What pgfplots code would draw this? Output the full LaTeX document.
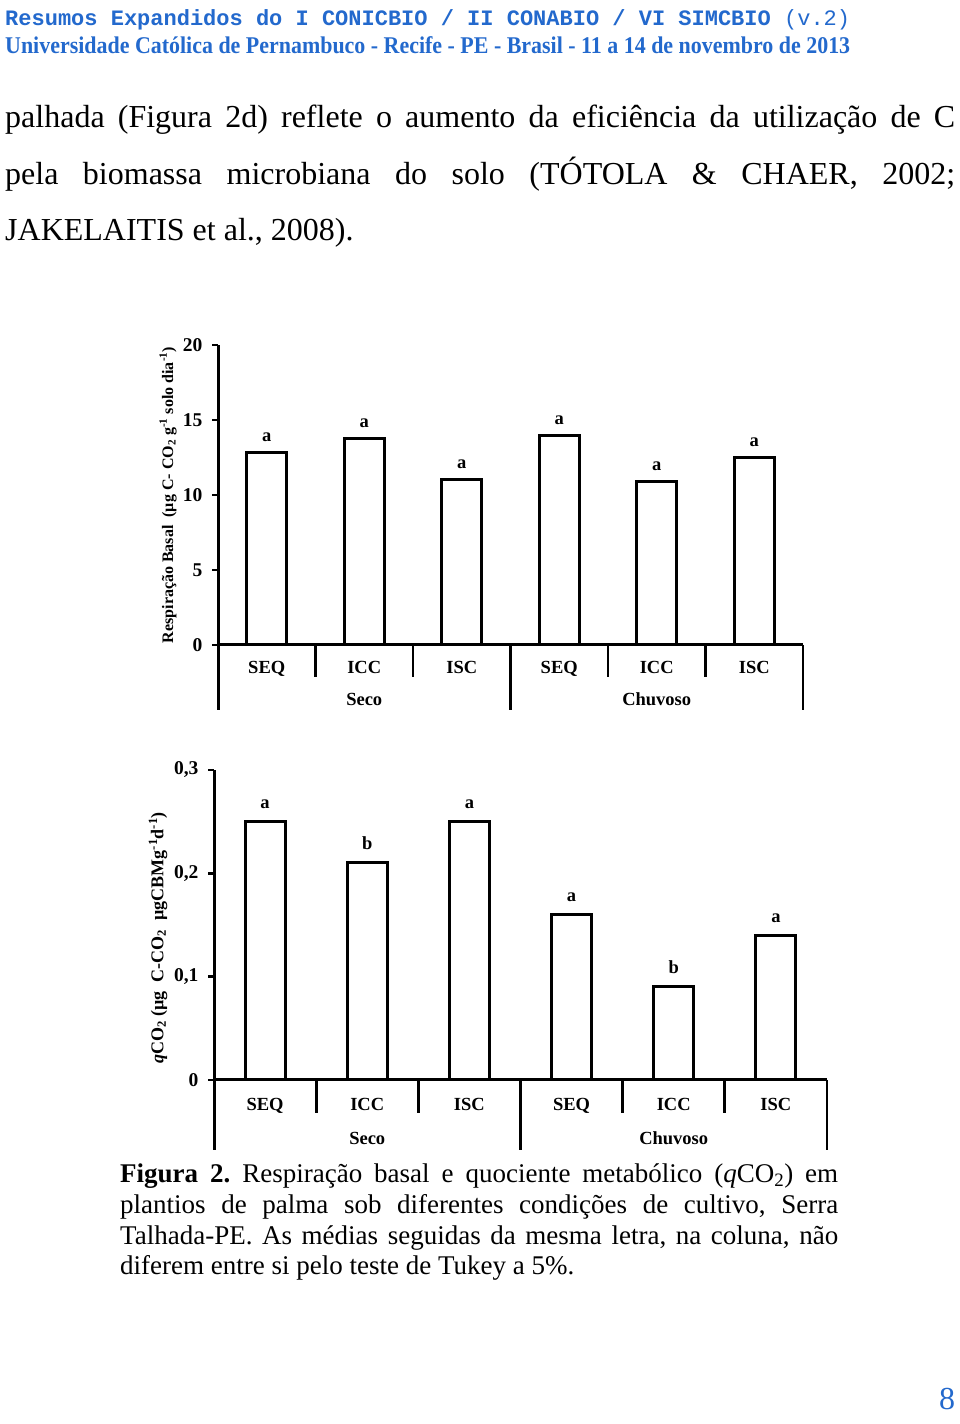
\documentclass[border=0pt]{standalone}
\usepackage{fontspec}
\setmainfont{Liberation Serif}
\newfontfamily\monof{Liberation Mono}
\usepackage{graphicx}
\usepackage{pgfplots}
\pgfplotsset{compat=1.18}
\usepackage{pgfplotstable}
\definecolor{hdrblue}{RGB}{35,105,205}
\newcommand\chf{\bfseries\fontsize{18.5}{20}\selectfont}
\frenchspacing

\pgfplotstableread{
x y l
0 12.85 a
1 13.78 a
2 11.05 a
3 13.95 a
4 10.87 a
5 12.52 a
}\resp
\pgfplotstableread{
x y l
0 0.25 a
1 0.21 b
2 0.25 a
3 0.16 a
4 0.09 b
5 0.14 a
}\qco

\pgfplotsset{barchart/.style={
  scale only axis, clip=false, anchor=south west,
  axis x line*=bottom, axis y line*=left,
  axis line style={-, line width=3pt, black},
  xmin=-0.5, xmax=5.5,
  xtick={0,...,5}, xticklabels={SEQ,ICC,ISC,SEQ,ICC,ISC},
  x tick style={draw=none},
  xticklabel style={font=\chf, anchor=base},
  tick align=outside, major tick length=6pt,
  y tick style={line width=2.6pt, black},
  yticklabel style={font=\bfseries\fontsize{19.5}{21}\selectfont, anchor=east, xshift=-6pt},
  /pgf/number format/assume math mode=true,
  /pgf/number format/use comma,
  ybar, bar width=40pt,
  nodes near coords, point meta=explicit symbolic,
  every node near coord/.append style={font=\chf, anchor=base},
}}

\begin{document}
\begin{tikzpicture}
\fill[white] (0,0) rectangle (960pt,1424pt);
\path[use as bounding box] (0,0) rectangle (960pt,1424pt);

% header
\node[anchor=base west, inner sep=0, text=hdrblue] at (5pt,1398pt)
  {\monof\fontsize{22}{24}\selectfont\textbf{Resumos Expandidos do I CONICBIO / II CONABIO / VI SIMCBIO }(v.2)};
\node[anchor=base west, inner sep=0, text=hdrblue] at (5pt,1370pt)
  {\resizebox{845pt}{\height}{\bfseries\fontsize{24}{26}\selectfont Universidade Católica de Pernambuco - Recife - PE - Brasil - 11 a 14 de novembro de 2013}};

% body text
\node[anchor=base west, inner sep=0] at (5pt,1296pt)
  {\fontsize{32}{38}\selectfont\makebox[950pt][s]{palhada (Figura 2d) reflete o aumento da eficiência da utilização de C}};
\node[anchor=base west, inner sep=0] at (5pt,1239pt)
  {\fontsize{32}{38}\selectfont\makebox[950pt][s]{pela biomassa microbiana do solo (TÓTOLA \& CHAER, 2002;}};
\node[anchor=base west, inner sep=0] at (5pt,1183pt)
  {\fontsize{32}{38}\selectfont JAKELAITIS et al., 2008).};

% chart 1
\begin{axis}[barchart, at={(218pt,779pt)}, width=585pt, height=300pt,
  ymin=0, ymax=20, ytick={0,5,10,15,20},
  xticklabel style={yshift=-23pt},
  every node near coord/.append style={yshift=11pt}]
\addplot[fill=white, draw=black, line width=3pt] table[x=x, y=y, meta=l] {\resp};
\pgfplotsinvokeforeach{0.5,1.5,3.5,4.5}{\draw[line width=2.8pt] (axis cs:#1,0) -- ([yshift=-32pt]axis cs:#1,0);}
\pgfplotsinvokeforeach{2.5,5.5}{\draw[line width=2.8pt] (axis cs:#1,0) -- ([yshift=-65pt]axis cs:#1,0);}
\draw[line width=3pt] ([yshift=-65pt]axis cs:-0.5,0) -- (axis cs:-0.5,20);
\draw[line width=3pt] (axis cs:-0.5,0) -- (axis cs:5.5,0);
\node[font=\chf, anchor=base] at ([yshift=-61pt]axis cs:1,0) {Seco};
\node[font=\chf, anchor=base] at ([yshift=-61pt]axis cs:4,0) {Chuvoso};
\end{axis}
\node[rotate=90, inner sep=0, font=\bfseries\fontsize{16}{18}\selectfont] at (168pt,929pt)
  {Respiração Basal\ \ (µg C- CO\textsubscript{2} g\textsuperscript{-1} solo dia\textsuperscript{-1})};

% chart 2
\begin{axis}[barchart, at={(214pt,344pt)}, width=613pt, height=310pt,
  ymin=0, ymax=0.3, ytick={0,0.1,0.2,0.3},
  yticklabel style={/pgf/number format/fixed, /pgf/number format/precision=1},
  xticklabel style={yshift=-25pt},
  every node near coord/.append style={yshift=13pt}]
\addplot[fill=white, draw=black, line width=3pt] table[x=x, y=y, meta=l] {\qco};
\pgfplotsinvokeforeach{0.5,1.5,3.5,4.5}{\draw[line width=2.8pt] (axis cs:#1,0) -- ([yshift=-33pt]axis cs:#1,0);}
\pgfplotsinvokeforeach{2.5,5.5}{\draw[line width=2.8pt] (axis cs:#1,0) -- ([yshift=-70pt]axis cs:#1,0);}
\draw[line width=3pt] ([yshift=-70pt]axis cs:-0.5,0) -- (axis cs:-0.5,0.3);
\draw[line width=3pt] (axis cs:-0.5,0) -- (axis cs:5.5,0);
\node[font=\chf, anchor=base] at ([yshift=-65pt]axis cs:1,0) {Seco};
\node[font=\chf, anchor=base] at ([yshift=-65pt]axis cs:4,0) {Chuvoso};
\end{axis}
\node[rotate=90, inner sep=0, font=\bfseries\fontsize{18}{20}\selectfont] at (158pt,486pt)
  {\textit{q}CO\textsubscript{2} (µg\ \ C-CO\textsubscript{2}\ \ µgCBMg\textsuperscript{-1}d\textsuperscript{-1})};

% caption
\node[anchor=base west, inner sep=0] at (120pt,241pt)
  {\fontsize{27}{31}\selectfont\makebox[718pt][s]{\textbf{Figura 2.} Respiração basal e quociente metabólico (\textit{q}CO\textsubscript{2}) em}};
\node[anchor=base west, inner sep=0] at (120pt,210pt)
  {\fontsize{27}{31}\selectfont\makebox[718pt][s]{plantios de palma sob diferentes condições de cultivo, Serra}};
\node[anchor=base west, inner sep=0] at (120pt,179pt)
  {\fontsize{27}{31}\selectfont\makebox[718pt][s]{Talhada-PE. As médias seguidas da mesma letra, na coluna, não}};
\node[anchor=base west, inner sep=0] at (120pt,149pt)
  {\fontsize{27}{31}\selectfont diferem entre si pelo teste de Tukey a 5\%.};

% page number
\node[anchor=base, inner sep=0, text=hdrblue] at (947pt,14pt) {\fontsize{32}{36}\selectfont 8};
\end{tikzpicture}
\end{document}
